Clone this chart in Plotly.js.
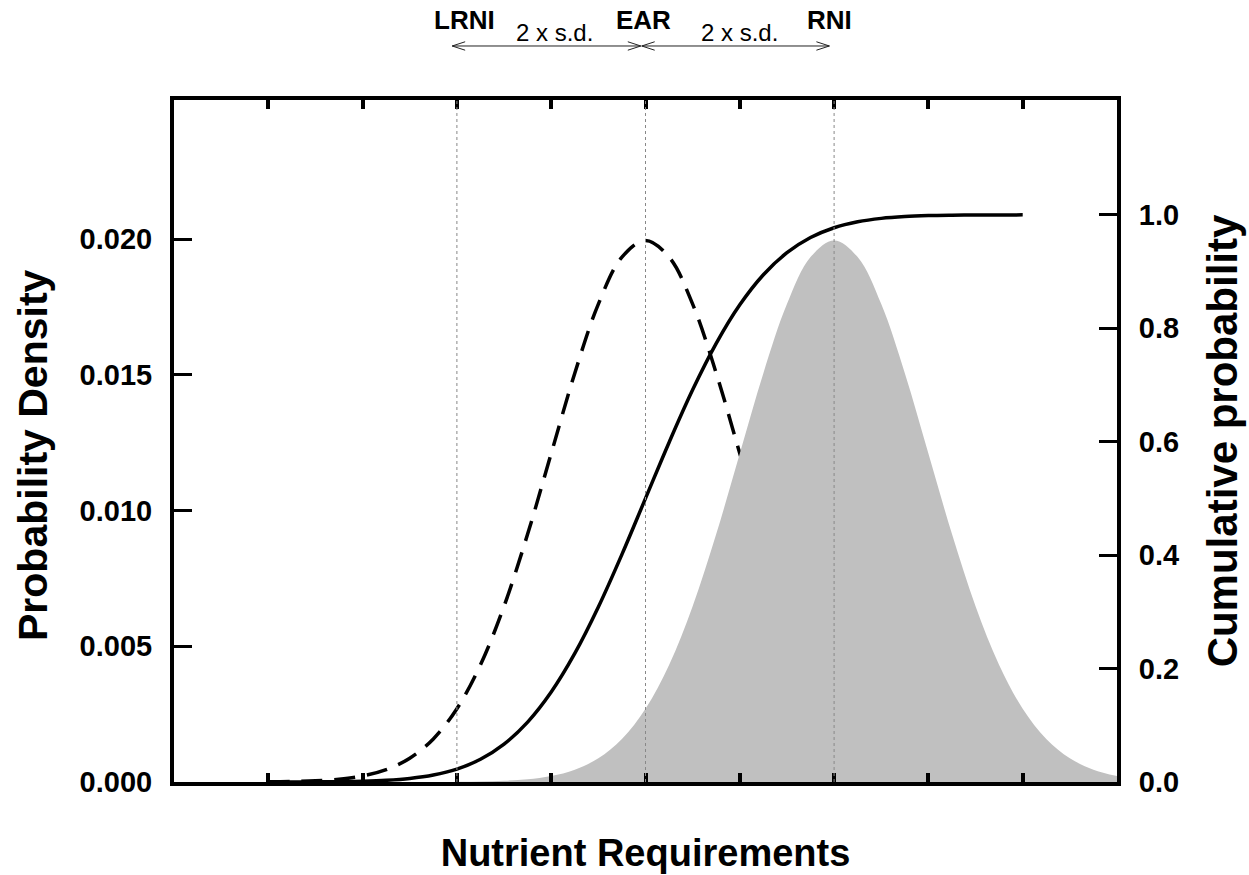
<!DOCTYPE html>
<html>
<head>
<meta charset="utf-8">
<script src="https://cdn.plot.ly/plotly-3.0.1.min.js"></script>
<style>
html,body{margin:0;padding:0;background:#fff;}
#chart{width:1249px;height:875px;}
</style>
</head>
<body>
<div id="chart"></div>
<script>
// Requirement distribution (dashed), x in nutrient units
const reqX = [20,25,30,35,40,45,50,55,60,65,70,75,80,85,90,95,100,105,110,115,120,125,130,135,140,145,150,155,160,165,170,175,180,185,190,195,200];
const reqDensity = [0.000007,0.000018,0.000044,0.000101,0.000222,0.000455,0.000876,0.001587,0.002700,0.004314,0.006476,0.009132,0.012099,0.015057,0.017603,0.019333,0.019947,0.019333,0.017603,0.015057,0.012099,0.009132,0.006476,0.004314,0.002700,0.001587,0.000876,0.000455,0.000222,0.000101,0.000044,0.000018,0.000007,0.000003,0.000001,0.0000005,0.0000002];

// Intake distribution (grey area)
const intakeX = [60,65,70,75,80,85,90,95,100,105,110,115,120,125,130,135,140,145,150,155,160,165,170,175,180,185,190,195,200];
const intakeDensity = [0.000007,0.000018,0.000044,0.000101,0.000222,0.000455,0.000876,0.001587,0.002700,0.004314,0.006476,0.009132,0.012099,0.015057,0.017603,0.019333,0.019947,0.019333,0.017603,0.015057,0.012099,0.009132,0.006476,0.004314,0.002700,0.001587,0.000876,0.000455,0.000222];

// Cumulative probability of requirement (solid)
const cumX = [20,25,30,35,40,45,50,55,60,65,70,75,80,85,90,95,100,105,110,115,120,125,130,135,140,145,150,155,160,165,170,175,180];
const cumProb = [0.00003,0.00009,0.00023,0.00058,0.00135,0.00298,0.00621,0.01222,0.02275,0.04006,0.06681,0.10565,0.15866,0.22663,0.30854,0.40129,0.5,0.59871,0.69146,0.77337,0.84134,0.89435,0.93319,0.95994,0.97725,0.98778,0.99379,0.99702,0.99865,0.99942,0.99977,0.99991,0.99997];

// Reference values
const refNames = ["LRNI","EAR","RNI"];
const refValues = [60,100,140];
const sdLabel = "2 x s.d.";

const xTicks = [20,40,60,80,100,120,140,160,180];
const yTicks = [0,0.005,0.010,0.015,0.020];
const y2Ticks = [0,0.2,0.4,0.6,0.8,1.0];

const FONT = "Liberation Sans, Arial, sans-serif";

const traces = [
  {x: reqX, y: reqDensity, type:"scatter", mode:"lines", yaxis:"y",
   line:{color:"#000", width:3.5, dash:"21px,12px", shape:"spline"}, hoverinfo:"skip", showlegend:false},
  {x: intakeX, y: intakeDensity, type:"scatter", mode:"lines", yaxis:"y",
   fill:"tozeroy", fillcolor:"#c0c0c0", line:{color:"#c0c0c0", width:0, shape:"spline"}, hoverinfo:"skip", showlegend:false},
  {x: cumX, y: cumProb, type:"scatter", mode:"lines", yaxis:"y2",
   line:{color:"#000", width:3.5, shape:"spline"}, hoverinfo:"skip", showlegend:false}
];

const shapes = refValues.map(v => ({type:"line", xref:"x", yref:"paper", x0:v, x1:v, y0:0, y1:1,
  line:{color:"#888", width:1, dash:"dot"}, layer:"above"}));

// arrows between reference values
const arrowY = 1.0792;
const headW = 2.75, headH = 0.0062;
function addArrow(a, b){
  shapes.push({type:"line", xref:"x", yref:"paper", x0:a, x1:b, y0:arrowY, y1:arrowY, line:{color:"#222", width:1}});
  shapes.push({type:"path", xref:"x", yref:"paper",
    path:`M${a+headW},${arrowY+headH} L${a},${arrowY} L${a+headW},${arrowY-headH}`, line:{color:"#222", width:1}});
  shapes.push({type:"path", xref:"x", yref:"paper",
    path:`M${b-headW},${arrowY+headH} L${b},${arrowY} L${b-headW},${arrowY-headH}`, line:{color:"#222", width:1}});
}
addArrow(refValues[0]-1, refValues[1]-1);
addArrow(refValues[1]-0.8, refValues[2]-1);

const annotations = [];
const nameOffsets = [1.7, -0.5, -0.9];
refNames.forEach((n,i) => annotations.push({text:"<b>"+n+"</b>", xref:"x", yref:"paper", x:refValues[i]+nameOffsets[i], y:1.1175,
  showarrow:false, xanchor:"center", yanchor:"middle", font:{family:FONT, size:26, color:"#000"}}));
annotations.push({text:sdLabel, xref:"x", yref:"paper", x:(refValues[0]+refValues[1])/2+0.6, y:1.0985, showarrow:false,
  xanchor:"center", yanchor:"middle", font:{family:FONT, size:24, color:"#000"}});
annotations.push({text:sdLabel, xref:"x", yref:"paper", x:(refValues[1]+refValues[2])/2, y:1.0985, showarrow:false,
  xanchor:"center", yanchor:"middle", font:{family:FONT, size:24, color:"#000"}});
// left axis title
annotations.push({text:"<b>Probability Density</b>", xref:"paper", yref:"paper", x:-0.1495, y:0.4795, textangle:-90,
  showarrow:false, xanchor:"center", yanchor:"middle", font:{family:FONT, size:41, color:"#000"}});

const layout = {
  width:1249, height:875,
  margin:{l:174, r:132, t:100, b:93},
  paper_bgcolor:"#fff", plot_bgcolor:"#fff",
  showlegend:false,
  font:{family:FONT, color:"#000"},
  xaxis:{range:[0,200], showgrid:false, zeroline:false, showline:true, linewidth:4, linecolor:"#000",
    mirror:"ticks", ticks:"inside", ticklen:9, tickwidth:4, tickcolor:"#000", tickvals:xTicks, showticklabels:false,
    title:{text:"<b>Nutrient Requirements</b>", font:{family:FONT, size:38, color:"#000"}, standoff:55}},
  yaxis:{range:[0,0.02512], showgrid:false, zeroline:false, showline:true, linewidth:4, linecolor:"#000",
    mirror:true, ticks:"inside", ticklen:18, tickwidth:3, tickcolor:"#000", tickvals:yTicks, tickformat:".3f",
    tickfont:{family:FONT, size:29, color:"#000", weight:"bold"}, ticklabelstandoff:12},
  yaxis2:{range:[0,1.2025], overlaying:"y", side:"right", showgrid:false, zeroline:false, showline:true, linewidth:4, linecolor:"#000",
    ticks:"inside", ticklen:18, tickwidth:3, tickcolor:"#000", tickvals:y2Ticks, tickformat:".1f",
    tickfont:{family:FONT, size:29, color:"#000", weight:"bold"}, ticklabelstandoff:12,
    title:{text:"<b>Cumulative probability</b>", font:{family:FONT, size:42, color:"#000"}, standoff:30}},
  shapes: shapes,
  annotations: annotations
};

Plotly.newPlot("chart", traces, layout, {staticPlot:true, displayModeBar:false});
</script>
</body>
</html>
